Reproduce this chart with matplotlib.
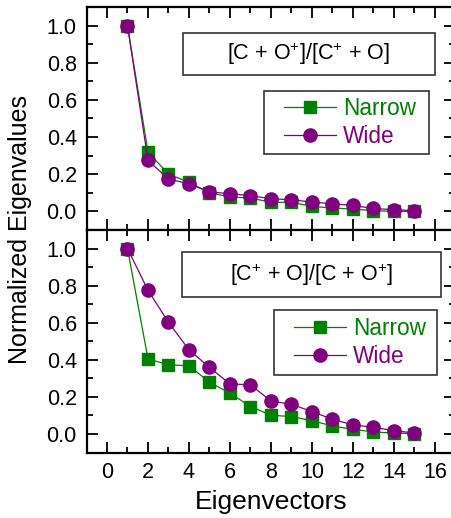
import numpy as np
import matplotlib.pyplot as plt
from matplotlib.patches import Rectangle
from matplotlib.ticker import MultipleLocator

plt.rcParams['font.family'] = 'Liberation Sans'
plt.rcParams['mathtext.fontset'] = 'custom'
plt.rcParams['mathtext.rm'] = 'Liberation Sans'
plt.rcParams['mathtext.it'] = 'Liberation Sans:italic'

# eigenvector index
vetores = np.arange(1, 16)

# top panel: [C + O+]/[C+ + O]
narrow_top = [1.0, 0.32, 0.20, 0.157, 0.10, 0.078, 0.072, 0.049, 0.049, 0.027,
              0.018, 0.013, 0.004, 0.0, 0.0]
wide_top = [1.0, 0.274, 0.175, 0.148, 0.105, 0.095, 0.085, 0.068, 0.063, 0.05,
            0.041, 0.032, 0.016, 0.009, 0.004]

# bottom panel: [C+ + O]/[C + O+]
narrow_bot = [1.0, 0.405, 0.373, 0.368, 0.279, 0.22, 0.148, 0.101, 0.094, 0.072,
              0.043, 0.025, 0.011, 0.005, 0.002]
wide_bot = [1.0, 0.775, 0.602, 0.454, 0.359, 0.27, 0.265, 0.178, 0.16, 0.121,
            0.079, 0.049, 0.036, 0.018, 0.005]

titulos = [r'[C + O$^{+}$]/[C$^{+}$ + O]', r'[C$^{+}$ + O]/[C + O$^{+}$]']

verde = '#008000'
roxo = '#800080'

fig = plt.figure(figsize=(4.51, 5.18), dpi=100)
ax1 = fig.add_axes([0.1918, 0.556, 0.818, 0.4305])
ax2 = fig.add_axes([0.1918, 0.1264, 0.818, 0.4296])

# (eixo, dados narrow, dados wide, titulo, centro caixa, largura, altura, caixa legenda x0,x1,y0,y1)
paineis = [(ax1, narrow_top, wide_top, titulos[0], (0.603, 0.789), 0.685, 0.19,
            (0.481, 0.928, 0.341, 0.623)),
           (ax2, narrow_bot, wide_bot, titulos[1], (0.610, 0.80), 0.70, 0.20,
            (0.508, 0.950, 0.348, 0.640))]

for ax, nar, wid, tit, centro, bw, bh, lb in paineis:
    ax.plot(vetores, nar, '-s', color=verde, lw=0.9, ms=8.5, mec=verde, label='Narrow')
    ax.plot(vetores, wid, '-o', color=roxo, lw=0.9, ms=9.5, mec=roxo, label='Wide')
    ax.set_xlim(-1, 17)
    ax.set_ylim(-0.1, 1.1)
    ax.xaxis.set_major_locator(MultipleLocator(2))
    ax.xaxis.set_minor_locator(MultipleLocator(1))
    ax.yaxis.set_major_locator(MultipleLocator(0.2))
    ax.yaxis.set_minor_locator(MultipleLocator(0.1))
    ax.tick_params(which='both', direction='in', top=True, right=True, width=1.3,
                   labelsize=15.5, pad=7)
    ax.tick_params(which='major', length=8)
    ax.tick_params(which='minor', length=4)
    for s in ax.spines.values():
        s.set_linewidth(1.6)
    ax.yaxis.set_major_formatter(plt.FuncFormatter(lambda v, p: f'{v:.1f}'))

    # caixa com o titulo
    ax.add_patch(Rectangle((centro[0] - bw / 2, centro[1] - bh / 2), bw, bh,
                           transform=ax.transAxes, fill=False, ec='#333333', lw=1.2))
    ax.text(centro[0], centro[1], tit, transform=ax.transAxes, ha='center', va='center',
            fontsize=15.5)

    # caixa da legenda
    x0, x1, y0, y1 = lb
    ax.add_patch(Rectangle((x0, y0), x1 - x0, y1 - y0, transform=ax.transAxes,
                           fill=False, ec='#333333', lw=1.2, zorder=5))
    leg = ax.legend(loc='center left', bbox_to_anchor=(x0 + 0.055, (y0 + y1) / 2),
                    fontsize=16.3, frameon=False, handlelength=2.3,
                    handletextpad=0.3, borderpad=0, labelspacing=0.2, borderaxespad=0)
    for t, c in zip(leg.get_texts(), [verde, roxo]):
        t.set_color(c)

ax1.tick_params(labelbottom=False)
ax2.set_xlabel('Eigenvectors', fontsize=19, labelpad=5)
fig.text(0.045, 0.556, 'Normalized Eigenvalues', rotation=90, ha='center', va='center',
         fontsize=18)

fig.savefig('out.png', dpi=100)
